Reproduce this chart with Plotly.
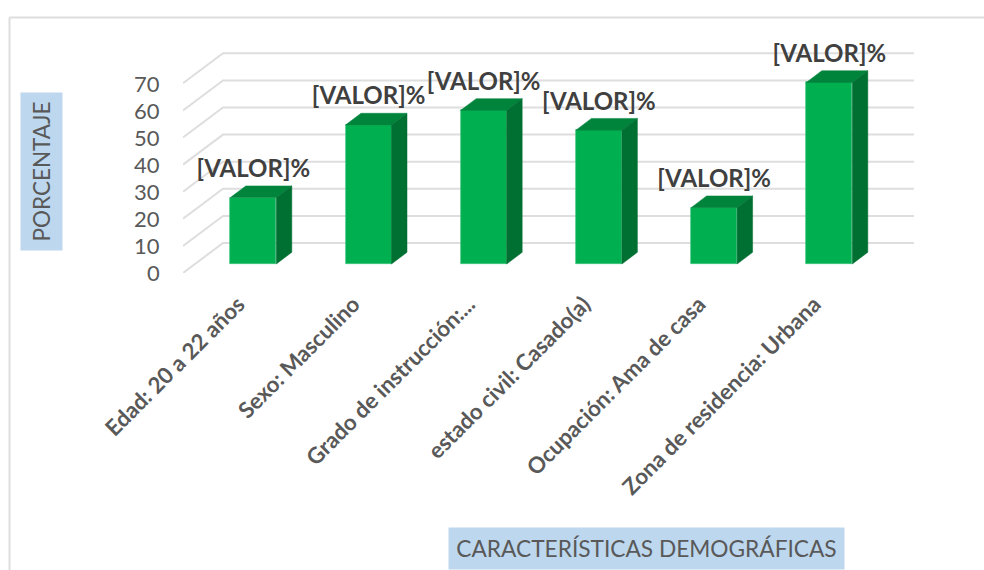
import plotly.graph_objects as go

# -----------------------------------------------------------------------------
# Data
# -----------------------------------------------------------------------------

categorias = [
    "Edad: 20 a 22 años",
    "Sexo: Masculino",
    "Grado de instrucción:...",
    "estado civil: Casado(a)",
    "Ocupación: Ama de casa",
    "Zona de residencia: Urbana",
]
porcentajes = [24.5, 51.3, 56.7, 49.4, 20.8, 67.0]
etiquetas = ["[VALOR]%"] * len(categorias)
ticks_y = [0, 10, 20, 30, 40, 50, 60, 70]

# -----------------------------------------------------------------------------
# Fake 3D set-up (Excel style column chart), everything in axis units
# -----------------------------------------------------------------------------

W, H = 984, 570
AXIS_L, AXIS_R, AXIS_T, AXIS_B = 183, 914, 30, 273  # plot box in pixels
PX_X = 115.2  # pixels per category
PX_Y = 2.71  # pixels per percent
X_MIN = (AXIS_L - 253.3) / PX_X
X_MAX = (AXIS_R - 253.3) / PX_X
Y_MIN = -(AXIS_B - 264) / PX_Y
Y_MAX = (264 - AXIS_T) / PX_Y

BAR_W = 46 / PX_X
BAR_DX, BAR_DY = 15.5 / PX_X, 11.7 / PX_Y
WALL_DX, WALL_DY = 40 / PX_X, 30 / PX_Y

FONT = "Lato"
GRID = "#DEDEDE"
VERDE, VERDE_TOP, VERDE_SIDE = "#00B050", "#00843C", "#006F32"
AZUL = "#BDD7EE"

fig = go.Figure()


def add_poly(xs, ys, color):
    fig.add_trace(go.Scatter(
        x=xs, y=ys, mode="lines", fill="toself", fillcolor=color,
        line=dict(color=color, width=0.5), hoverinfo="skip", showlegend=False,
    ))


# wall gridlines with the diagonal floor ticks, kept under the bars
for t in ticks_y:
    x_pts = [X_MIN, X_MIN + WALL_DX, X_MAX]
    y_pts = [Y_MIN + t, Y_MIN + t + WALL_DY, Y_MIN + t + WALL_DY]
    fig.add_shape(
        type="path", layer="below", line=dict(color=GRID, width=2),
        path=f"M {x_pts[0]} {y_pts[0]} L {x_pts[1]} {y_pts[1]} L {x_pts[2]} {y_pts[2]}",
    )

# front faces
fig.add_trace(go.Bar(
    x=list(range(len(categorias))), y=porcentajes, width=BAR_W,
    marker=dict(color=VERDE, line=dict(color="#3CC47C", width=0.7)),
    hoverinfo="skip", showlegend=False,
))

# top and side faces
for i, v in enumerate(porcentajes):
    l, r = i - BAR_W / 2, i + BAR_W / 2
    add_poly([l, r, r + BAR_DX, l + BAR_DX, l], [v, v, v + BAR_DY, v + BAR_DY, v], VERDE_TOP)
    add_poly([r, r + BAR_DX, r + BAR_DX, r, r], [0, BAR_DY, v + BAR_DY, v, 0], VERDE_SIDE)

# data labels
fig.add_trace(go.Scatter(
    x=list(range(len(categorias))), y=[v + 9.8 for v in porcentajes],
    mode="text", text=etiquetas, textposition="middle center",
    textfont=dict(family=FONT, size=24, color="#404040", weight="bold"),
    hoverinfo="skip", showlegend=False, cliponaxis=False,
))

# y tick labels sit on the front edge of the floor
for t in ticks_y:
    fig.add_annotation(
        x=X_MIN, y=Y_MIN + t, text=str(t), showarrow=False, xanchor="right", yanchor="middle",
        xshift=-21, font=dict(family=FONT, size=22, color="#595959"),
    )

fig.update_layout(
    width=W, height=H,
    margin=dict(l=0, r=0, t=0, b=0),
    paper_bgcolor="white", plot_bgcolor="white",
    bargap=0,
    font=dict(family=FONT),
    xaxis=dict(
        domain=[AXIS_L / W, AXIS_R / W], range=[X_MIN, X_MAX],
        tickmode="array", tickvals=list(range(len(categorias))), ticktext=categorias,
        tickangle=-45, ticks="", showgrid=False, zeroline=False, showline=False,
        tickfont=dict(family=FONT, size=22.3, color="#595959", weight="bold"),
        ticklabelstandoff=13, ticklabelshift=-15,
        automargin=False,
    ),
    yaxis=dict(
        domain=[1 - AXIS_B / H, 1 - AXIS_T / H], range=[Y_MIN, Y_MAX],
        showticklabels=False, ticks="", showgrid=False, zeroline=False, showline=False,
        automargin=False,
    ),
)

# chart frame, only the left and top edges show in the crop
fig.add_shape(type="line", xref="paper", yref="paper", x0=9.5 / W, x1=9.5 / W, y0=0, y1=1 - 17.5 / H,
              line=dict(color=GRID, width=2))
fig.add_shape(type="line", xref="paper", yref="paper", x0=9.5 / W, x1=1, y0=1 - 17.5 / H, y1=1 - 17.5 / H,
              line=dict(color=GRID, width=2))

# axis titles on their blue boxes
fig.add_annotation(
    xref="paper", yref="paper", x=41.5 / W, y=1 - 171.5 / H, text="PORCENTAJE", showarrow=False,
    xanchor="center", yanchor="middle",
    textangle=-90, bgcolor=AZUL, width=157, height=41, borderpad=0,
    font=dict(family=FONT, size=22.5, color="#595959"),
)
fig.add_annotation(
    xref="paper", yref="paper", x=646.5 / W, y=1 - 548.5 / H, text="CARACTERÍSTICAS DEMOGRÁFICAS",
    showarrow=False, xanchor="center", yanchor="middle",
    bgcolor=AZUL, width=395, height=41, borderpad=0,
    font=dict(family=FONT, size=22.7, color="#595959"),
)

fig.write_html(
    "out.html",
    config={"displayModeBar": False},
    post_script="document.body.style.margin='0';",
)
